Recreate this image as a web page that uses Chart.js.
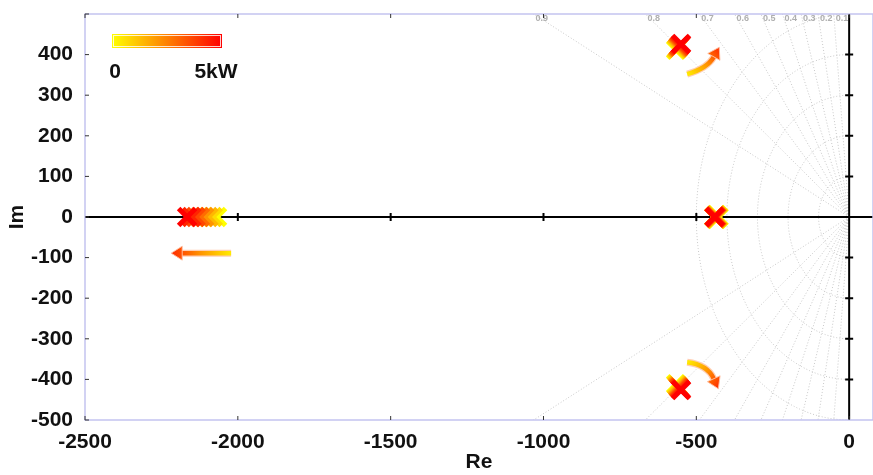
<!DOCTYPE html>
<html>
<head>
<meta charset="utf-8">
<script src="https://cdn.jsdelivr.net/npm/chart.js@4.4.0/dist/chart.umd.min.js"></script>
<style>
  html, body { margin: 0; padding: 0; background: #fff; overflow: hidden; }
  canvas { display: block; }
</style>
</head>
<body>
<canvas id="MiGrafico" width="873" height="475"></canvas>
<script>
// power steps, 0 .. 5 kW
const powerKW = [0, 0.7, 1.4, 2.1, 2.9, 3.6, 4.3, 5];

// far pole on the real axis
const farRe = [-2068, -2082, -2096, -2110, -2124, -2138, -2152, -2166];
const farIm = [0, 0, 0, 0, 0, 0, 0, 0];

// complex pair (upper half, lower is the conjugate)
const pairRe = [-566, -564, -561, -559, -557, -555, -552, -550];
const pairIm = [412, 414, 416, 418, 420, 422, 424, 426];

// real pole close to the origin
const nearRe = [-434, -435, -436, -437, -438, -438, -439, -440];
const nearIm = [0, 0, 0, 0, 0, 0, 0, 0];

// axes
const xTicks = [-2500, -2000, -1500, -1000, -500, 0];
const yTicks = [-500, -400, -300, -200, -100, 0, 100, 200, 300, 400];

// s-plane grid
const zetaLines = [0.1, 0.2, 0.3, 0.4, 0.5, 0.6, 0.7, 0.8, 0.9];
const wnCircles = [100, 200, 300, 400, 500];

// arrows showing how the poles move (data units)
const arrows = [
  { tail: [-530, 352], ctrl: [-464, 366], head: [-425, 418] },
  { tail: [-530, -358], ctrl: [-464, -364], head: [-428, -423] },
  { tail: [-2022, -89], ctrl: [-2120, -89], head: [-2218, -89] }
];

const FONT = "'Liberation Sans', Arial, Helvetica, sans-serif";

function powerColor(p) {
  let g = Math.round(255 * (1 - p / 5));
  return 'rgb(255,' + g + ',0)';
}

function pts(re, im) {
  return re.map((r, i) => ({ x: r, y: im[i] }));
}

const colors = powerKW.map(powerColor);

function poleSet(label, re, im, extra) {
  return Object.assign({
    label: label,
    data: pts(re, im),
    pointStyle: 'crossRot',
    pointRadius: 12,
    pointHoverRadius: 12,
    pointBorderWidth: 5,
    pointBorderColor: colors,
    pointBackgroundColor: colors,
    showLine: false
  }, extra || {});
}

const sgridPlugin = {
  id: 'sgrid',
  beforeDatasetsDraw(chart) {
    const ctx = chart.ctx;
    const a = chart.chartArea;
    const xs = chart.scales.x, ys = chart.scales.y;
    const X = v => xs.getPixelForValue(v);
    const Y = v => ys.getPixelForValue(v);
    ctx.save();
    ctx.beginPath();
    ctx.rect(a.left, a.top, a.right - a.left, a.bottom - a.top);
    ctx.clip();
    ctx.strokeStyle = 'rgb(200,200,200)';
    ctx.lineWidth = 1;
    ctx.setLineDash([1, 2]);
    // damping lines
    zetaLines.forEach(z => {
      let s = Math.sqrt(1 - z * z);
      let r = 5000;
      [1, -1].forEach(sg => {
        ctx.beginPath();
        ctx.moveTo(X(0), Y(0));
        ctx.lineTo(X(-z * r), Y(sg * s * r));
        ctx.stroke();
      });
    });
    // natural frequency circles
    wnCircles.forEach(w => {
      ctx.beginPath();
      for (let i = 0; i <= 180; i++) {
        let t = Math.PI / 2 + i * Math.PI / 180;
        let px = X(w * Math.cos(t)), py = Y(w * Math.sin(t));
        if (i === 0) ctx.moveTo(px, py); else ctx.lineTo(px, py);
      }
      ctx.stroke();
    });
    ctx.restore();

    // damping labels along the top edge
    ctx.save();
    ctx.font = 'bold 9px ' + FONT;
    ctx.fillStyle = 'rgb(175,175,175)';
    ctx.textBaseline = 'middle';
    zetaLines.forEach(z => {
      let s = Math.sqrt(1 - z * z);
      let xv = -500 * z / s;
      ctx.fillText(String(z), X(xv) + 2, a.top + 5);
    });
    ctx.restore();

    // black axes through the origin
    ctx.save();
    ctx.strokeStyle = '#000';
    ctx.lineWidth = 2;
    ctx.beginPath();
    ctx.moveTo(a.left, Y(0)); ctx.lineTo(a.right, Y(0));
    ctx.moveTo(X(0), a.top); ctx.lineTo(X(0), a.bottom);
    xTicks.forEach(v => {
      if (v === 0 || v === xTicks[0]) return;
      ctx.moveTo(X(v), Y(0) - 4); ctx.lineTo(X(v), Y(0) + 4);
    });
    yTicks.forEach(v => {
      if (v === 0 || v === yTicks[0]) return;
      ctx.moveTo(X(0) - 4, Y(v)); ctx.lineTo(X(0) + 4, Y(v));
    });
    ctx.stroke();
    ctx.restore();
  },
  afterDatasetsDraw(chart) {
    const ctx = chart.ctx;
    const a = chart.chartArea;
    const xs = chart.scales.x, ys = chart.scales.y;
    const X = v => xs.getPixelForValue(v);
    const Y = v => ys.getPixelForValue(v);

    // box
    ctx.save();
    ctx.strokeStyle = 'rgb(195,195,240)';
    ctx.lineWidth = 1.5;
    ctx.strokeRect(a.left, a.top, a.right - a.left, a.bottom - a.top);
    ctx.strokeStyle = '#333';
    ctx.lineWidth = 1;
    ctx.beginPath();
    xTicks.forEach(v => {
      ctx.moveTo(X(v), a.bottom); ctx.lineTo(X(v), a.bottom - 4);
      ctx.moveTo(X(v), a.top); ctx.lineTo(X(v), a.top + 4);
    });
    yTicks.forEach(v => {
      ctx.moveTo(a.left, Y(v)); ctx.lineTo(a.left + 4, Y(v));
    });
    ctx.moveTo(a.left, a.top); ctx.lineTo(a.left + 4, a.top);
    ctx.stroke();
    ctx.restore();

    // arrows
    arrows.forEach(ar => {
      const t = [X(ar.tail[0]), Y(ar.tail[1])];
      const c = [X(ar.ctrl[0]), Y(ar.ctrl[1])];
      const h = [X(ar.head[0]), Y(ar.head[1])];
      const ang = Math.atan2(h[1] - c[1], h[0] - c[0]);
      const headLen = 11, headW = 7;
      const base = [h[0] - headLen * Math.cos(ang), h[1] - headLen * Math.sin(ang)];
      const grad = ctx.createLinearGradient(t[0], t[1], h[0], h[1]);
      grad.addColorStop(0, 'rgb(255,235,0)');
      grad.addColorStop(0.5, 'rgb(255,150,0)');
      grad.addColorStop(1, 'rgb(255,40,0)');
      ctx.save();
      ctx.strokeStyle = 'rgba(255,200,170,0.9)';
      ctx.lineWidth = 7;
      ctx.beginPath();
      ctx.moveTo(t[0], t[1]);
      ctx.quadraticCurveTo(c[0], c[1], base[0], base[1]);
      ctx.stroke();
      ctx.strokeStyle = grad;
      ctx.lineWidth = 4.5;
      ctx.beginPath();
      ctx.moveTo(t[0], t[1]);
      ctx.quadraticCurveTo(c[0], c[1], base[0], base[1]);
      ctx.stroke();
      ctx.fillStyle = grad;
      ctx.strokeStyle = 'rgba(255,190,160,0.9)';
      ctx.lineWidth = 1;
      ctx.beginPath();
      ctx.moveTo(h[0], h[1]);
      ctx.lineTo(base[0] + headW * Math.sin(ang), base[1] - headW * Math.cos(ang));
      ctx.lineTo(base[0] - headW * Math.sin(ang), base[1] + headW * Math.cos(ang));
      ctx.closePath();
      ctx.fill();
      ctx.stroke();
      ctx.restore();
    });

    // colour bar for the power
    ctx.save();
    const cb = { x: 112, y: 34, w: 110, h: 14 };
    const g2 = ctx.createLinearGradient(cb.x, 0, cb.x + cb.w, 0);
    g2.addColorStop(0, powerColor(powerKW[0]));
    g2.addColorStop(0.5, powerColor(2.5));
    g2.addColorStop(1, powerColor(powerKW[powerKW.length - 1]));
    ctx.fillStyle = g2;
    ctx.fillRect(cb.x, cb.y, cb.w, cb.h);
    ctx.strokeStyle = 'rgba(255,255,255,0.8)';
    ctx.lineWidth = 1;
    ctx.strokeRect(cb.x + 1.5, cb.y + 1.5, cb.w - 3, cb.h - 3);
    ctx.fillStyle = '#111';
    ctx.font = 'bold 21px ' + FONT;
    ctx.textAlign = 'center';
    ctx.textBaseline = 'middle';
    ctx.fillText(String(powerKW[0]), 115, 72);
    ctx.fillText(powerKW[powerKW.length - 1] + 'kW', 216, 72);
    ctx.restore();
  }
};

const miCanvas = document.getElementById('MiGrafico').getContext('2d');

const myChart = new Chart(miCanvas, {
  type: 'scatter',
  data: {
    datasets: [
      poleSet('far', farRe, farIm),
      poleSet('pair+', pairRe, pairIm),
      poleSet('pair-', pairRe, pairIm.map(v => -v)),
      poleSet('near', nearRe, nearIm, {
        pointRadius: [13.5, 13.2, 13, 12.8, 12.6, 12.4, 12.2, 12],
        pointBorderWidth: [8, 7.5, 7, 6.5, 6, 5.5, 5, 5]
      })
    ]
  },
  plugins: [sgridPlugin],
  options: {
    responsive: false,
    devicePixelRatio: 1,
    animation: false,
    events: [],
    layout: {
      autoPadding: false,
      padding: { top: 14, right: 0, left: 0, bottom: 0 }
    },
    plugins: {
      legend: { display: false },
      tooltip: { enabled: false }
    },
    scales: {
      x: {
        type: 'linear',
        min: -2500,
        max: 78,
        grid: { display: false, drawTicks: false },
        border: { display: false },
        afterBuildTicks: s => { s.ticks = xTicks.map(v => ({ value: v })); },
        afterFit: s => { s.height = 55; s.paddingLeft = 0; s.paddingRight = 0; },
        ticks: {
          padding: 10,
          color: '#111',
          font: { family: FONT, size: 21, weight: 'bold' },
          callback: v => String(v)
        },
        title: {
          display: true,
          text: 'Re',
          color: '#111',
          font: { family: FONT, size: 21, weight: 'bold' },
          padding: { top: 0, bottom: 0 }
        }
      },
      y: {
        type: 'linear',
        min: -500,
        max: 500,
        grid: { display: false, drawTicks: false },
        border: { display: false },
        afterBuildTicks: s => { s.ticks = yTicks.map(v => ({ value: v })); },
        afterFit: s => { s.width = 85; s.paddingTop = 0; s.paddingBottom = 0; },
        ticks: {
          padding: 12,
          color: '#111',
          font: { family: FONT, size: 21, weight: 'bold' },
          callback: v => String(v)
        },
        title: {
          display: true,
          text: 'Im',
          color: '#111',
          font: { family: FONT, size: 21, weight: 'bold' },
          padding: { top: 5, bottom: 0 }
        }
      }
    }
  }
});
</script>
</body>
</html>
